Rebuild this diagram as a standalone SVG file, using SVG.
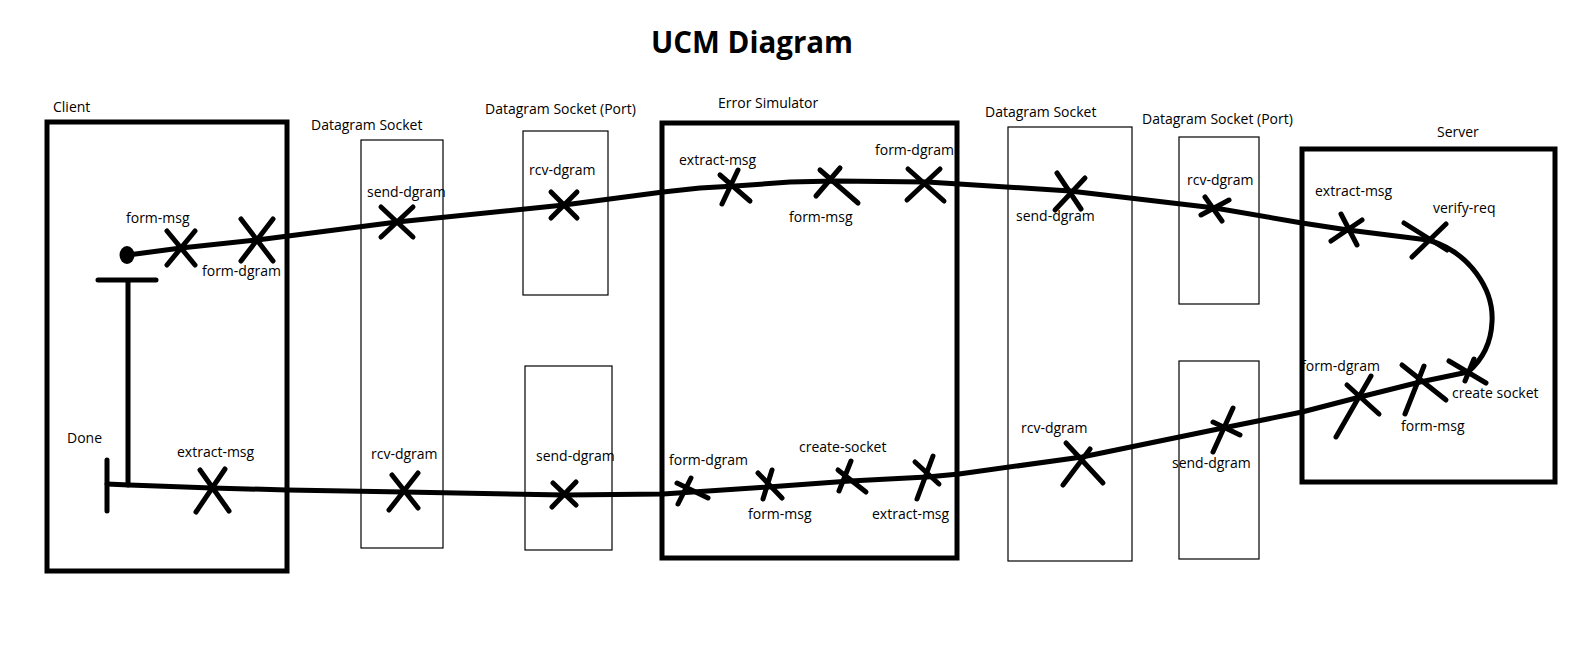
<svg xmlns="http://www.w3.org/2000/svg" width="1575" height="650" viewBox="0 0 1575 650">
<style>
  .lbl{font-family:"Open Sans","Noto Sans",sans-serif;font-size:14px;fill:#000}
  .title{font-family:"Open Sans","Noto Sans",sans-serif;font-size:29.5px;font-weight:bold;fill:#000}
  .comp{fill:none;stroke:#000;stroke-width:5}
  .sock{fill:none;stroke:#000;stroke-width:1.2}
  .path{fill:none;stroke:#000;stroke-width:5;stroke-linejoin:round;stroke-linecap:round}
  .x{stroke:#000;stroke-width:5;stroke-linecap:round}
</style>
<rect width="1575" height="650" fill="#fff"/>
<text class="title" x="651" y="53">UCM Diagram</text>

<g id="client">
  <rect class="comp" x="47" y="122" width="240" height="449"/>
  <text class="lbl" x="53" y="112">Client</text>
</g>
<g id="ds-client">
  <rect class="sock" x="361" y="140" width="82" height="408"/>
  <text class="lbl" x="311" y="130">Datagram Socket</text>
</g>
<g id="port-es-top">
  <rect class="sock" x="523" y="131" width="85" height="164"/>
  <text class="lbl" x="485" y="114">Datagram Socket (Port)</text>
</g>
<g id="port-es-bottom">
  <rect class="sock" x="525" y="366" width="87" height="184"/>
</g>
<g id="error-simulator">
  <rect class="comp" x="662" y="123" width="295" height="435"/>
  <text class="lbl" x="718" y="108">Error Simulator</text>
</g>
<g id="ds-es">
  <rect class="sock" x="1008" y="127" width="124" height="434"/>
  <text class="lbl" x="985" y="117">Datagram Socket</text>
</g>
<g id="port-server-top">
  <rect class="sock" x="1179" y="137" width="80" height="167"/>
  <text class="lbl" x="1142" y="124">Datagram Socket (Port)</text>
</g>
<g id="port-server-bottom">
  <rect class="sock" x="1179" y="361" width="80" height="198"/>
</g>
<g id="server">
  <rect class="comp" x="1302" y="149" width="253" height="333"/>
  <text class="lbl" x="1437" y="137">Server</text>
</g>

<g id="connectors">
  <ellipse cx="127" cy="255" rx="7.5" ry="9" fill="#000"/>
  <path class="path" d="M128,255 L181,248 L257,240 L397,222 L564,205 L663,192 L700,188 L735,186 L790,182 L835,181 L927,182 L959,184 L1070,191 L1215,208 L1302,223 L1348,230 L1428,240 C1470,252 1494,290 1492,322 C1491,345 1482,360 1468,372"/>
  <path class="path" d="M1468,372 L1420,382 L1360,397 L1302,412 L1223,428 L1082,457 L959,474 L927,477 L850,481 L768,487 L693,492 L663,494 L565,495 L404,492 L287,490 L212,488 L129,485 L107,484"/>
  <path class="path" d="M107,460 L107,511"/>
  <path class="path" d="M98,280 L156,280 M128,280 L128,485"/>
</g>

<g id="responsibilities">
  <g id="r-form-msg-c"><path class="x" d="M167,265 L195,231 M167,231 L195,265"/><text class="lbl" x="126" y="223">form-msg</text></g>
  <g id="r-form-dgram-c"><path class="x" d="M241,261 L273,219 M241,219 L273,261"/><text class="lbl" x="202" y="276">form-dgram</text></g>
  <g id="r-send-dgram-1"><path class="x" d="M381,237 L413,207 M381,207 L413,237"/><text class="lbl" x="367" y="197">send-dgram</text></g>
  <g id="r-rcv-dgram-1"><path class="x" d="M551,218 L577,192 M551,192 L577,218"/><text class="lbl" x="529" y="175">rcv-dgram</text></g>
  <g id="r-extract-es"><path class="x" d="M722,204 L738,170 M720,175 L750,201"/><text class="lbl" x="679" y="165">extract-msg</text></g>
  <g id="r-form-msg-es"><path class="x" d="M816,196 L840,168 M820,170 L858,203"/><text class="lbl" x="789" y="222">form-msg</text></g>
  <g id="r-form-dgram-es"><path class="x" d="M907,200 L940,169 M908,169 L944,201"/><text class="lbl" x="875" y="155">form-dgram</text></g>
  <g id="r-send-dgram-2"><path class="x" d="M1057,173 L1081,209 M1055,210 L1085,178"/><text class="lbl" x="1016" y="221">send-dgram</text></g>
  <g id="r-rcv-dgram-2"><path class="x" d="M1205,197 L1222,221 M1201,215 L1229,200"/><text class="lbl" x="1187" y="185">rcv-dgram</text></g>
  <g id="r-extract-s"><path class="x" d="M1341,214 L1357,245 M1331,241 L1362,220"/><text class="lbl" x="1315" y="196">extract-msg</text></g>
  <g id="r-verify"><path class="x" d="M1404,223 L1447,250 M1412,257 L1446,224"/><text class="lbl" x="1433" y="213">verify-req</text></g>
  <g id="r-create-s"><path class="x" d="M1449,361 L1486,383 M1465,381 L1474,359"/><text class="lbl" x="1452" y="398">create socket</text></g>
  <g id="r-form-msg-s"><path class="x" d="M1405,414 L1424,366 M1402,365 L1446,400"/><text class="lbl" x="1401" y="431">form-msg</text></g>
  <g id="r-form-dgram-s"><path class="x" d="M1336,437 L1371,376 M1347,385 L1379,414"/><text class="lbl" x="1301" y="371">form-dgram</text></g>
  <g id="r-send-dgram-3"><path class="x" d="M1213,452 L1233,408 M1213,422 L1240,435"/><text class="lbl" x="1172" y="468">send-dgram</text></g>
  <g id="r-rcv-dgram-3"><path class="x" d="M1066,443 L1103,483 M1063,485 L1090,449"/><text class="lbl" x="1021" y="433">rcv-dgram</text></g>
  <g id="r-extract-es-b"><path class="x" d="M917,499 L933,456 M915,462 L939,484"/><text class="lbl" x="872" y="519">extract-msg</text></g>
  <g id="r-create-es"><path class="x" d="M839,491 L851,461 M838,470 L866,492"/><text class="lbl" x="799" y="452">create-socket</text></g>
  <g id="r-form-msg-es-b"><path class="x" d="M763,499 L772,470 M758,473 L782,498"/><text class="lbl" x="748" y="519">form-msg</text></g>
  <g id="r-form-dgram-es-b"><path class="x" d="M678,504 L691,478 M677,483 L708,498"/><text class="lbl" x="669" y="465">form-dgram</text></g>
  <g id="r-send-dgram-4"><path class="x" d="M552,507 L576,482 M553,483 L576,505"/><text class="lbl" x="536" y="461">send-dgram</text></g>
  <g id="r-rcv-dgram-4"><path class="x" d="M389,510 L418,473 M392,475 L418,508"/><text class="lbl" x="371" y="459">rcv-dgram</text></g>
  <g id="r-extract-c"><path class="x" d="M196,512 L225,469 M200,470 L229,511"/><text class="lbl" x="177" y="457">extract-msg</text></g>
</g>
<text class="lbl" x="67" y="443">Done</text>
</svg>
